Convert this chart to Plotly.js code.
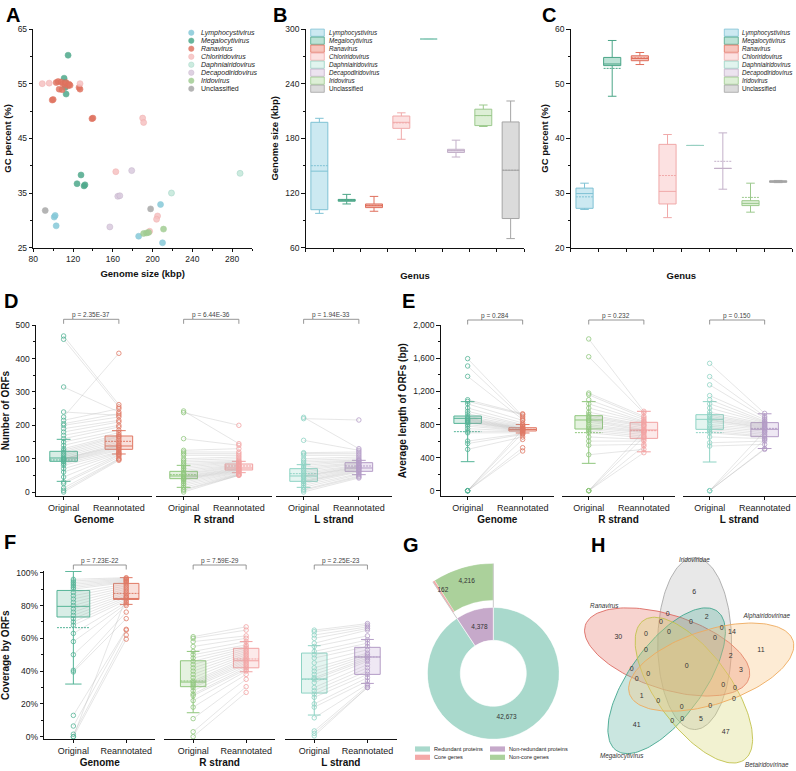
<!DOCTYPE html>
<html>
<head>
<meta charset="utf-8">
<script src="https://cdn.plot.ly/plotly-3.0.1.min.js"></script>
<style>html,body{margin:0;padding:0;background:#fff;}#chart{width:796px;height:771px;}</style>
</head>
<body>
<div id="chart"></div>
<script>
// ================= DATA =================
const genera = ['Lymphocystivirus','Megalocytivirus','Ranavirus','Chloriridovirus','Daphniairidovirus','Decapodiridovirus','Iridovirus','Unclassified'];

// Panel A: genome size (kbp) and GC percent (%) of each genome, by genus
const sizeLympho = [101, 102, 103, 186, 208, 210];
const gcLympho   = [30.6, 30.9, 29.0, 27.1, 32.9, 25.9];
const sizeMegalo = [115, 111, 112, 112, 113, 128, 124, 131, 132];
const gcMegalo   = [60.2, 56.0, 55.2, 54.3, 53.1, 38.3, 36.7, 36.3, 36.5];
const sizeRana   = [99, 100, 103, 105, 106, 108, 109, 110, 112, 113, 115, 116, 117, 126, 127, 139, 140];
const gcRana     = [52.0, 52.1, 55.2, 55.4, 54.0, 55.3, 53.9, 55.0, 54.9, 55.2, 54.6, 54.9, 54.7, 54.3, 54.0, 48.6, 48.7];
const sizeChlor  = [89, 96, 127, 163, 190, 191, 197, 205, 204];
const gcChlor    = [55.0, 55.1, 55.0, 38.9, 48.7, 47.9, 28.0, 30.8, 30.2];
const sizeDaph   = [219, 288];
const gcDaph     = [35.0, 38.6];
const sizeDecap  = [179, 165, 167, 157];
const gcDecap    = [39.1, 34.4, 34.5, 28.8];
const sizeIrido  = [191, 194, 196, 211];
const gcIrido    = [27.6, 27.7, 27.8, 28.4];
const sizeUncl   = [92, 198];
const gcUncl     = [31.8, 32.1];

// Panel B: genome size (kbp) box statistics per genus
const bLowerFence = [97.7, 108, 100, 179, 289, 159.5, 193, 70];
const bQ1         = [101.7, 111, 104, 191, 289, 164.5, 194, 92];
const bMedian     = [144, 112, 106, 197.6, 289, 166.5, 205, 145];
const bQ3         = [197.6, 113, 108, 204.5, 289, 168, 212, 198];
const bUpperFence = [202, 118.5, 116.3, 208, 289, 178, 216.6, 221];
const bMean       = [150, 112.5, 106.5, 197, 289, 166.5, 205, 145];

// Panel C: GC percent (%) box statistics per genus
const cLowerFence = [27.0, 47.7, 53.5, 25.5, 38.7, 30.7, 26.5, 31.9];
const cQ1         = [27.2, 53.3, 54.2, 28.0, 38.7, 34.5, 27.7, 31.95];
const cMedian     = [29.9, 53.6, 54.6, 30.3, 38.7, 34.5, 28.1, 32.1];
const cQ3         = [30.9, 54.8, 55.1, 38.9, 38.7, 34.5, 28.6, 32.25];
const cUpperFence = [31.8, 57.9, 55.7, 40.7, 38.7, 41.0, 31.8, 32.3];
const cMean       = [29.3, 52.8, 54.7, 33.2, 38.7, 35.8, 29.2, 32.1];

const groups = ['Genome', 'R strand', 'L strand'];
const states = ['Original', 'Reannotated'];

// Panel D: number of ORFs, paired genomes (original -> reannotated)
const dGenomeOrig  = [468, 458, 315, 240, 225, 215, 205, 200, 190, 180, 170, 160, 150, 140, 130, 125, 120, 115, 110, 105, 100, 100, 98, 95, 92, 90, 85, 80, 70, 60, 45, 30, 25, 12, 5, 0];
const dGenomeReann = [262, 255, 240, 230, 416, 250, 235, 225, 215, 210, 200, 195, 185, 178, 172, 168, 165, 160, 155, 150, 145, 140, 138, 135, 132, 128, 125, 120, 118, 115, 112, 110, 105, 100, 98, 95];
const dROrig  = [243, 238, 160, 125, 120, 115, 110, 100, 95, 90, 85, 80, 75, 70, 65, 60, 55, 52, 48, 45, 42, 40, 38, 35, 30, 25, 20, 14, 8, 5, 0];
const dRReann = [145, 200, 140, 130, 120, 115, 110, 105, 100, 95, 92, 90, 88, 85, 82, 80, 78, 75, 72, 70, 68, 66, 64, 62, 60, 58, 55, 53, 52, 50, 50];
const dLOrig  = [224, 220, 155, 118, 115, 110, 100, 95, 90, 85, 80, 75, 70, 65, 60, 55, 50, 48, 45, 40, 35, 32, 30, 25, 20, 14, 8, 5, 0];
const dLReann = [130, 216, 125, 120, 115, 110, 105, 100, 96, 94, 92, 88, 86, 84, 80, 78, 76, 74, 72, 70, 68, 65, 62, 60, 55, 52, 48, 45, 42];
// box stats: [lowerfence, q1, median, q3, upperfence, mean]
const dGenomeOrigBox  = [32, 92, 102, 122, 158, 96];
const dGenomeReannBox = [114, 128, 138, 168, 184, 152];
const dROrigBox       = [14, 40, 48, 62, 80, 52];
const dRReannBox      = [58, 66, 72, 84, 92, 78];
const dLOrigBox       = [14, 32, 48, 70, 82, 55];
const dLReannBox      = [52, 62, 72, 88, 95, 78];
const dPvalues = ['2.35E-37', '6.44E-36', '1.94E-33'];

// Panel E: average length of ORFs (bp)
const eGenomeOrig  = [1597, 1508, 1383, 1100, 1080, 1050, 1000, 960, 930, 900, 880, 870, 860, 850, 840, 830, 820, 800, 780, 750, 720, 700, 600, 570, 500, 0, 0, 0, 0, 0];
const eGenomeReann = [900, 880, 860, 930, 920, 850, 820, 800, 790, 780, 770, 760, 755, 750, 745, 740, 735, 730, 725, 720, 715, 700, 690, 680, 650, 520, 480, 620, 700, 740];
const eROrig  = [1835, 1620, 1180, 1160, 1100, 1050, 1000, 950, 920, 900, 880, 860, 850, 830, 800, 780, 760, 740, 720, 700, 650, 600, 550, 435, 0, 0, 0, 0];
const eRReann = [960, 940, 900, 880, 860, 840, 830, 820, 800, 790, 780, 760, 740, 730, 720, 710, 700, 680, 660, 640, 620, 600, 560, 500, 460, 540, 650, 720];
const eLOrig  = [1540, 1380, 1280, 1150, 1100, 1050, 1000, 950, 920, 900, 880, 860, 850, 830, 800, 780, 760, 740, 720, 700, 650, 580, 540, 0, 0, 0, 0];
const eLReann = [935, 900, 880, 860, 840, 830, 820, 810, 800, 790, 780, 770, 760, 750, 740, 720, 700, 680, 660, 650, 630, 600, 560, 510, 500, 620, 720];
const eGenomeOrigBox  = [351, 814, 875, 903, 1077, 714];
const eGenomeReannBox = [698, 722, 740, 762, 800, 742];
const eROrigBox       = [331, 746, 855, 907, 1077, 702];
const eRReannBox      = [470, 633, 734, 827, 960, 726];
const eLOrigBox       = [347, 742, 863, 919, 1077, 702];
const eLReannBox      = [510, 653, 742, 823, 930, 754];
const ePvalues = ['0.284', '0.232', '0.150'];

// Panel F: coverage by ORFs (%)
const fGenomeOrig  = [96, 95, 94, 93, 92, 91, 90, 88, 86, 84, 82, 80, 78, 76, 74, 72, 70, 68, 63, 58, 50, 40.5, 39.5, 13, 6.5, 1.5, 0, 0];
const fGenomeReann = [97, 96.5, 96, 95.5, 95, 94.5, 94, 93, 92, 91, 90, 89, 88, 87, 86, 85, 84, 83, 82, 81, 80, 76, 72, 65.5, 65, 62, 59.5, 85];
const fROrig  = [61, 60, 58, 55, 52, 50, 48, 46, 44, 42, 40, 38, 36, 34, 33, 32, 31, 30, 28, 26, 25, 22, 18, 11, 3, 0];
const fRReann = [67, 65, 61.5, 60, 58, 56, 55, 54, 53, 52, 51, 50, 49, 48, 47, 46, 45, 44, 43, 42, 41, 40, 38, 35, 30.5, 27];
const fLOrig  = [65, 64, 62, 60, 57, 55, 52, 50, 48, 45, 42, 40, 38, 36, 35, 33, 30, 28, 26, 24, 20, 18, 11.5, 3.5, 2, 0.5];
const fLReann = [69, 68, 67, 66, 65, 61.5, 59, 57, 55, 53, 51, 50, 49, 48, 47, 46, 44, 42, 40, 38, 36, 34, 32, 31, 30, 30];
const fGenomeOrigBox  = [32.1, 73, 79.5, 89.2, 100.8, 66.5];
const fGenomeReannBox = [80.7, 83.7, 84.2, 93.5, 97, 87.4];
const fROrigBox       = [14.6, 30.5, 33.3, 46.3, 52, 34];
const fRReannBox      = [39.6, 42, 46.3, 53.9, 58, 47.4];
const fLOrigBox       = [13.2, 26.6, 35.2, 51, 55.5, 35];
const fLReannBox      = [32.5, 38, 48.6, 54.5, 59.3, 48.6];
const fPvalues = ['7.23E-22', '7.59E-29', '2.25E-23'];
const fTickVals = [0, 20, 40, 60, 80, 100];

// Panel G
const proteinLabels = ['Redundant proteins', 'Non-redundant proteins'];
const proteinCounts = [42673, 4378];
const geneLabels = ['Core genes', 'Non-core genes'];
const geneCounts = [162, 4216];

// Panel H: five-set Venn
const vennSets = ['Iridoviridae', 'Ranavirus', 'Megalocytivirus', 'Betairidovirinae', 'Alphairidovirinae'];
const vennCounts = [6,0,2,0,0,0,14,30,0,0,0,11,0,2,0,3,0,0,0,0,0,1,0,0,0,0,41,0,0,5,47];

// ================= STYLE / LAYOUT GEOMETRY =================
const W = 796, H = 771;
const FONT = 'Arial, "Liberation Sans", Helvetica, sans-serif';
const px = x => x / W, py = y => 1 - y / H;
const genusMarker = ['#86c9d9', '#4da98b', '#e07562', '#f6c1c1', '#c4e8da', '#d9cadd', '#a2cd93', '#a8a8a8'];
const genusLine   = ['#7fc2d4', '#4aa587', '#df6f5c', '#f0a9a9', '#98d0c1', '#c3b0c9', '#9cc98d', '#a5a5a5'];
const genusFill   = ['rgba(170,218,232,0.6)', 'rgba(120,198,172,0.5)', 'rgba(238,150,135,0.55)', 'rgba(250,200,200,0.55)', 'rgba(205,236,226,0.6)', 'rgba(226,212,231,0.65)', 'rgba(203,231,192,0.65)', 'rgba(210,210,210,0.8)'];
const origColors  = ['#55b497', '#8fc67c', '#8ed3c4'];
const reannColors = ['#e07864', '#f2a2a2', '#b49cc6'];
const origFills   = ['rgba(100,185,155,0.25)', 'rgba(150,205,130,0.25)', 'rgba(150,215,200,0.25)'];
const reannFills  = ['rgba(230,130,110,0.25)', 'rgba(245,170,170,0.25)', 'rgba(190,165,210,0.25)'];

const traces = [], shapes = [], annotations = [];
const layout = {
  width: W, height: H, margin: {l: 0, r: 0, t: 0, b: 0},
  paper_bgcolor: '#ffffff', plot_bgcolor: 'rgba(0,0,0,0)', showlegend: false,
  font: {family: FONT, color: '#222', size: 9},
  shapes: shapes, annotations: annotations
};
function axis(o) {
  return Object.assign({showgrid: false, zeroline: false, showline: true, linecolor: '#111', linewidth: 1,
    ticks: 'outside', ticklen: 3.5, tickwidth: 1, tickcolor: '#111', fixedrange: true,
    tickfont: {size: 8.5, family: FONT, color: '#222'}}, o);
}
function title(t, size, standoff) { return {text: '<b>' + t + '</b>', font: {size: size, family: FONT, color: '#111'}, standoff: standoff}; }
function letter(t, x, y) {
  annotations.push({text: '<b>' + t + '</b>', xref: 'paper', yref: 'paper', x: px(x), y: py(y), xanchor: 'left', yanchor: 'middle', showarrow: false, font: {size: 20, family: FONT, color: '#000'}});
}
function txt(t, x, y, size, anchor, extra) {
  annotations.push(Object.assign({text: t, xref: 'paper', yref: 'paper', x: px(x), y: py(y), xanchor: anchor || 'left', yanchor: 'middle', showarrow: false, font: {size: size, family: FONT, color: '#222'}}, extra || {}));
}

// ================= PANEL A =================
const aSizes = [sizeLympho, sizeMegalo, sizeRana, sizeChlor, sizeDaph, sizeDecap, sizeIrido, sizeUncl];
const aGCs   = [gcLympho, gcMegalo, gcRana, gcChlor, gcDaph, gcDecap, gcIrido, gcUncl];
genera.forEach((g, i) => {
  traces.push({type: 'scatter', mode: 'markers', name: g, x: aSizes[i], y: aGCs[i], xaxis: 'x', yaxis: 'y',
    marker: {size: 6, color: genusMarker[i], opacity: 0.85, line: {width: 0.6, color: genusLine[i]}}, hoverinfo: 'skip'});
});
layout.xaxis = axis({domain: [px(33.3), px(252)], range: [80, 300], anchor: 'y', tickvals: [80, 120, 160, 200, 240, 280],
  minor: {ticks: 'outside', ticklen: 2, tickcolor: '#111', tick0: 100, dtick: 40}, title: title('Genome size (kbp)', 9.5, 6)});
layout.yaxis = axis({domain: [py(247.7), py(29)], range: [25, 65], anchor: 'x', tickvals: [25, 35, 45, 55, 65],
  minor: {ticks: 'outside', ticklen: 2, tickcolor: '#111', tick0: 30, dtick: 10}, title: title('GC percent (%)', 9.5, 4)});
genera.forEach((g, i) => {
  const yc = 32.7 + 8 * i;
  shapes.push({type: 'circle', xref: 'paper', yref: 'paper', x0: px(188.6), x1: px(194), y0: py(yc + 2.7), y1: py(yc - 2.7),
    fillcolor: genusMarker[i], line: {color: genusLine[i], width: 0.5}, opacity: 0.85});
  txt(g === 'Unclassified' ? g : '<i>' + g + '</i>', 199, yc, 7);
});

// ================= PANEL B & C =================
function statBox(xa, ya, pos, st, line, fill, width) {
  return {type: 'box', xaxis: xa, yaxis: ya, x: [pos], lowerfence: [st[0]], q1: [st[1]], median: [st[2]], q3: [st[3]],
    upperfence: [st[4]], mean: [st[5]], boxmean: true, width: width, whiskerwidth: 0.5, boxpoints: false,
    line: {color: line, width: 1}, fillcolor: fill, hoverinfo: 'skip'};
}
genera.forEach((g, i) => {
  traces.push(statBox('x2', 'y2', i + 0.5, [bLowerFence[i], bQ1[i], bMedian[i], bQ3[i], bUpperFence[i], bMean[i]], genusLine[i], genusFill[i], 0.62));
  traces.push(statBox('x3', 'y3', i + 0.5, [cLowerFence[i], cQ1[i], cMedian[i], cQ3[i], cUpperFence[i], cMean[i]], genusLine[i], genusFill[i], 0.62));
});
layout.xaxis2 = axis({domain: [px(305.7), px(524.3)], range: [0, 8], anchor: 'y2', tickvals: [0, 1, 2, 3, 4, 5, 6, 7, 8], showticklabels: false,
  title: title('Genus', 9.5, 21)});
layout.yaxis2 = axis({domain: [py(247.7), py(29)], range: [60, 300], anchor: 'x2', tickvals: [60, 120, 180, 240, 300],
  minor: {ticks: 'outside', ticklen: 2, tickcolor: '#111', tick0: 90, dtick: 60}, title: title('Genome size (kbp)', 9.5, 4)});
layout.xaxis3 = axis({domain: [px(570.7), px(792)], range: [0, 8], anchor: 'y3', tickvals: [0, 1, 2, 3, 4, 5, 6, 7, 8], showticklabels: false,
  title: title('Genus', 9.5, 21)});
layout.yaxis3 = axis({domain: [py(247.7), py(29)], range: [20, 60], anchor: 'x3', tickvals: [20, 30, 40, 50, 60],
  minor: {ticks: 'outside', ticklen: 2, tickcolor: '#111', tick0: 25, dtick: 10}, title: title('GC percent (%)', 9.5, 4)});
genera.forEach((g, i) => {
  const yc = 32.7 + 8 * i;
  [[310.7, 324.3, 326.5], [724.3, 738.3, 740.3]].forEach(p => {
    shapes.push({type: 'rect', xref: 'paper', yref: 'paper', x0: px(p[0]), x1: px(p[1]), y0: py(yc + 3.6), y1: py(yc - 3.6),
      fillcolor: genusFill[i], line: {color: genusLine[i], width: 0.8}});
    txt(g === 'Unclassified' ? g : '<i>' + g + '</i>', p[2], yc, 6.3);
  });
});

// ================= PANELS D, E, F =================
function pairLines(xa, ya, orig, reann) {
  const x = [], y = [];
  orig.forEach((v, i) => { x.push(0, 1, null); y.push(v, reann[i], null); });
  return {type: 'scatter', mode: 'lines', xaxis: xa, yaxis: ya, x: x, y: y, line: {color: 'rgba(165,165,165,0.4)', width: 0.7}, hoverinfo: 'skip'};
}
function pts(xa, ya, pos, vals, color) {
  return {type: 'scatter', mode: 'markers', xaxis: xa, yaxis: ya, x: vals.map(() => pos), y: vals, cliponaxis: false,
    marker: {symbol: 'circle-open', size: 4.5, color: color, line: {width: 0.8, color: color}}, hoverinfo: 'skip'};
}
function pairPanel(cfg) {
  cfg.xa.forEach((xa, k) => {
    traces.push(pairLines(xa, cfg.ya, cfg.orig[k], cfg.reann[k]));
    traces.push(statBox(xa, cfg.ya, 0, cfg.origBox[k], origColors[k], origFills[k], cfg.widths[k][0]));
    traces.push(statBox(xa, cfg.ya, 1, cfg.reannBox[k], reannColors[k], reannFills[k], cfg.widths[k][1]));
    traces.push(pts(xa, cfg.ya, 0, cfg.orig[k], origColors[k]));
    traces.push(pts(xa, cfg.ya, 1, cfg.reann[k], reannColors[k]));
    const name = 'xaxis' + xa.slice(1);
    layout[name] = axis({domain: [px(cfg.dom[k][0]), px(cfg.dom[k][1])], range: cfg.xrange, anchor: cfg.ya,
      tickvals: [0, 1], ticktext: states, ticklen: 3, tickfont: {size: 9, family: FONT, color: '#222'},
      title: title(groups[k], 10, cfg.titleStandoff)});
    shapes.push({type: 'path', xref: xa, yref: 'paper', path: 'M 0,' + py(cfg.brY + 4.5) + ' L 0,' + py(cfg.brY) + ' L 1,' + py(cfg.brY) + ' L 1,' + py(cfg.brY + 4.5),
      line: {color: '#8a8a8a', width: 0.9}});
    annotations.push({text: 'p = ' + cfg.pvals[k], xref: xa, yref: 'paper', x: 0.5, y: py(cfg.brY - 4.5), xanchor: 'center', yanchor: 'middle', showarrow: false,
      font: {size: 6.5, family: FONT, color: '#444'}});
  });
}
pairPanel({xa: ['x4', 'x5', 'x6'], ya: 'y4', orig: [dGenomeOrig, dROrig, dLOrig], reann: [dGenomeReann, dRReann, dLReann],
  origBox: [dGenomeOrigBox, dROrigBox, dLOrigBox], reannBox: [dGenomeReannBox, dRReannBox, dLReannBox],
  widths: [[0.5, 0.5], [0.5, 0.5], [0.5, 0.5]], dom: [[36, 152], [156, 272], [276, 392]], xrange: [-0.5, 1.6], brY: 319.3, pvals: dPvalues, titleStandoff: 4});
layout.yaxis4 = axis({domain: [py(496), py(325.3)], range: [-12, 500], anchor: 'x4', tickvals: [0, 100, 200, 300, 400, 500],
  minor: {ticks: 'outside', ticklen: 2, tickcolor: '#111', tick0: 50, dtick: 100}, title: title('Number of ORFs', 10, 4)});

pairPanel({xa: ['x7', 'x8', 'x9'], ya: 'y7', orig: [eGenomeOrig, eROrig, eLOrig], reann: [eGenomeReann, eRReann, eLReann],
  origBox: [eGenomeOrigBox, eROrigBox, eLOrigBox], reannBox: [eGenomeReannBox, eRReannBox, eLReannBox],
  widths: [[0.5, 0.5], [0.5, 0.5], [0.5, 0.5]], dom: [[440.7, 554], [561.7, 675.3], [682.7, 796]], xrange: [-0.49, 1.57], brY: 320, pvals: ePvalues, titleStandoff: 4});
layout.yaxis7 = axis({domain: [py(496), py(325.3)], range: [-64, 2000], anchor: 'x7', tickvals: [0, 400, 800, 1200, 1600, 2000], tickformat: ',d',
  minor: {ticks: 'outside', ticklen: 2, tickcolor: '#111', tick0: 200, dtick: 400}, title: title('Average length of ORFs (bp)', 10, 4)});

pairPanel({xa: ['x10', 'x11', 'x12'], ya: 'y10', orig: [fGenomeOrig, fROrig, fLOrig], reann: [fGenomeReann, fRReann, fLReann],
  origBox: [fGenomeOrigBox, fROrigBox, fLOrigBox], reannBox: [fGenomeReannBox, fRReannBox, fLReannBox],
  widths: [[0.62, 0.48], [0.48, 0.48], [0.48, 0.48]], dom: [[44.3, 155.3], [164, 275.3], [285, 396.7]], xrange: [-0.55, 1.55], brY: 565, pvals: fPvalues, titleStandoff: 3});
layout.yaxis10 = axis({domain: [py(739.3), py(571.1)], range: [-1.6, 101], anchor: 'x10', tickvals: fTickVals, ticktext: fTickVals.map(v => v + '%'),
  minor: {ticks: 'outside', ticklen: 2, tickcolor: '#111', tick0: 10, dtick: 20}, title: title('Coverage by ORFs', 10, 4)});

// ================= PANEL G =================
const totP = proteinCounts.reduce((a, b) => a + b, 0);
const nrSpan = 360 * proteinCounts[1] / totP;
const totG = geneCounts.reduce((a, b) => a + b, 0);
const ncSpan = nrSpan * geneCounts[1] / totG;
const coreSpan = nrSpan - ncSpan;
const gColors = {red: '#a9d9cc', nonred: '#c6a9ca', core: '#f4a9a8', noncore: '#abd19b'};
traces.push({type: 'barpolar', subplot: 'polar', theta: [nrSpan + (360 - nrSpan) / 2, nrSpan / 2], width: [360 - nrSpan, nrSpan],
  base: [33, 33], r: [33, 33], marker: {color: [gColors.red, gColors.nonred], line: {color: '#ffffff', width: 0.6}}, hoverinfo: 'skip'});
traces.push({type: 'scatterpolar', subplot: 'polar', mode: 'text', theta: [nrSpan + (360 - nrSpan) / 2, nrSpan / 2], r: [46, 48],
  text: proteinCounts.map(v => v.toLocaleString('en-US')), textfont: {size: 6.5, family: FONT, color: '#333'}, cliponaxis: false, hoverinfo: 'skip'});
traces.push({type: 'barpolar', subplot: 'polar2', theta: [ncSpan + coreSpan / 2, ncSpan / 2], width: [coreSpan, ncSpan],
  base: [73, 73], r: [37, 37], marker: {color: [gColors.core, gColors.noncore], line: {color: '#ffffff', width: 0.3}}, hoverinfo: 'skip'});
traces.push({type: 'scatterpolar', subplot: 'polar2', mode: 'lines', theta: [0, 0, null, nrSpan, nrSpan], r: [66, 110, null, 66, 110],
  line: {color: '#c4c4c4', width: 0.9}, cliponaxis: false, hoverinfo: 'skip'});
traces.push({type: 'scatterpolar', subplot: 'polar2', mode: 'text', theta: [nrSpan - 2.2, ncSpan / 2], r: [97, 96],
  text: geneCounts.map(v => v.toLocaleString('en-US')), textfont: {size: 6.5, family: FONT, color: '#333'}, cliponaxis: false, hoverinfo: 'skip'});
const polarAx = {angularaxis: {visible: false, rotation: 90, direction: 'counterclockwise'}, bgcolor: 'rgba(0,0,0,0)'};
layout.polar = Object.assign({domain: {x: [px(427.3), px(559.3)], y: [py(739.3), py(607.3)]}, radialaxis: {visible: false, range: [0, 66]}}, polarAx);
layout.polar2 = Object.assign({domain: {x: [px(422.6), px(502.9)], y: [py(673.3), py(563.3)]}, sector: [85, 130], radialaxis: {visible: false, range: [0, 110]}}, polarAx);
[[proteinLabels[0], gColors.red, 415, 749], [geneLabels[0], gColors.core, 415, 757.3], [proteinLabels[1], gColors.nonred, 490, 749], [geneLabels[1], gColors.noncore, 490, 757.3]].forEach(e => {
  shapes.push({type: 'rect', xref: 'paper', yref: 'paper', x0: px(e[2]), x1: px(e[2] + 15), y0: py(e[3] + 2.6), y1: py(e[3] - 2.6), fillcolor: e[1], line: {width: 0}});
  txt(e[0], e[2] + 16.5, e[3], 5.6);
});

// ================= PANEL H =================
const vennStroke = ['#a9a9a9', '#dd6a62', '#43a68f', '#c2c24d', '#eeaa5e'];
const vennFill = ['rgba(185,185,185,0.33)', 'rgba(232,120,110,0.33)', 'rgba(95,180,160,0.33)', 'rgba(215,215,115,0.33)', 'rgba(248,195,125,0.33)'];
const vennCenter = [106.7, 156.7], vennAxes = [86, 37], vennOffset = 24.5;
vennSets.forEach((s, k) => {
  const oa = (71 + 72 * k) * Math.PI / 180, ra = (90 + 72 * k) * Math.PI / 180;
  const cx = vennCenter[0] + vennOffset * Math.cos(oa), cy = vennCenter[1] - vennOffset * Math.sin(oa);
  const xs = [], ys = [];
  for (let i = 0; i <= 144; i++) {
    const u = 2 * Math.PI * i / 144, ex = vennAxes[0] * Math.cos(u), ey = vennAxes[1] * Math.sin(u);
    xs.push(cx + ex * Math.cos(ra) - ey * Math.sin(ra));
    ys.push(cy - (ex * Math.sin(ra) + ey * Math.cos(ra)));
  }
  traces.push({type: 'scatter', mode: 'lines', xaxis: 'x13', yaxis: 'y13', x: xs, y: ys, fill: 'toself', fillcolor: vennFill[k],
    line: {color: vennStroke[k], width: 0.9}, hoverinfo: 'skip', name: s});
});
const vennLabelPos = [[114.3,82.7],[87.7,104],[126.7,107.3],[81,112.3],[111,112.3],[141.7,118.3],[152,122.7],[38.3,127.7],[66,124],[89,122.3],[135,128.3],[181,140.7],[66,140],[150.7,146.7],[106.7,156.7],[161,160.7],[51.7,159.3],[56.7,169.3],[68.3,164],[143.3,175],[155,178.3],[61.7,186.7],[78.3,191.7],[154,189.3],[101.7,197],[130.3,196],[56.7,215],[92.3,211],[102.3,209.3],[121,209.3],[145.7,222.7]];
traces.push({type: 'scatter', mode: 'text', xaxis: 'x13', yaxis: 'y13', x: vennLabelPos.map(p => p[0]), y: vennLabelPos.map(p => p[1]),
  text: vennCounts.map(String), textfont: {size: 7, family: FONT, color: '#333'}, hoverinfo: 'skip', cliponaxis: false});
const vennNamePos = [[114.3, 50.7], [24.3, 96], [41.7, 246.7], [186.7, 255], [186.7, 106]];
traces.push({type: 'scatter', mode: 'text', xaxis: 'x13', yaxis: 'y13', x: vennNamePos.map(p => p[0]), y: vennNamePos.map(p => p[1]),
  text: vennSets.map(s => '<i>' + s + '</i>'), textfont: {size: 6.3, family: FONT, color: '#333'}, hoverinfo: 'skip', cliponaxis: false});
layout.xaxis13 = {domain: [px(580), 1], range: [0, 216], anchor: 'y13', visible: false, fixedrange: true};
layout.yaxis13 = {domain: [0, py(510)], range: [261, 0], anchor: 'x13', visible: false, fixedrange: true};

// ================= PANEL LETTERS =================
letter('A', 4, 15); letter('B', 271, 15); letter('C', 540, 15);
letter('D', 2, 301); letter('E', 400, 301); letter('F', 2, 542); letter('G', 401, 545); letter('H', 589, 545);

Plotly.newPlot('chart', traces, layout, {staticPlot: true, displayModeBar: false});
</script>
</body>
</html>
